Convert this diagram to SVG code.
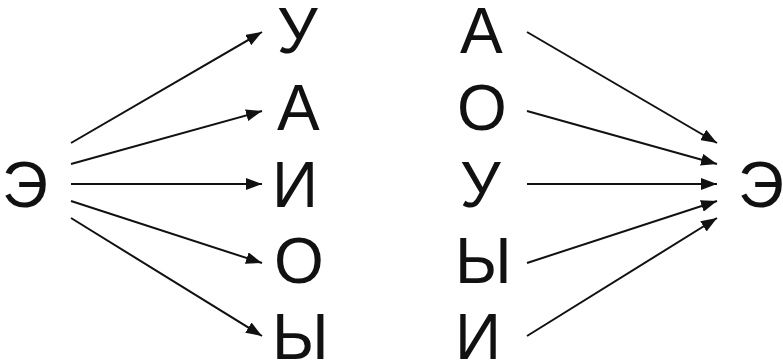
<svg xmlns="http://www.w3.org/2000/svg" width="783" height="363" viewBox="0 0 783 363">
<style>
text{font-family:"Liberation Sans",Arial,sans-serif;font-size:64px;fill:#111}
.c line{stroke:#111;stroke-width:2}
</style>
<defs>
<marker id="ah" viewBox="0 0 16 12" refX="16" refY="6" markerWidth="16" markerHeight="12" markerUnits="userSpaceOnUse" orient="auto">
<path d="M0,0L16,6L0,12z" fill="#111"/>
</marker>
</defs>
<rect width="783" height="363" fill="#fff"/>
<g id="left-e"><text x="2" y="207">Э</text></g>
<g id="l-u"><text x="277" y="53">У</text></g>
<g id="l-a"><text x="277" y="130">А</text></g>
<g id="l-i"><text x="272" y="207">И</text></g>
<g id="l-o"><text x="274" y="283">О</text></g>
<g id="l-y"><text x="272" y="359">Ы</text></g>
<g id="r-a"><text x="460" y="53">А</text></g>
<g id="r-o"><text x="457" y="130">О</text></g>
<g id="r-u"><text x="460" y="207">У</text></g>
<g id="r-y"><text x="455" y="283">Ы</text></g>
<g id="r-i"><text x="455" y="359">И</text></g>
<g id="right-e"><text x="738" y="207">Э</text></g>
<g class="c" id="connectors">
<line x1="71" y1="143" x2="262" y2="32" marker-end="url(#ah)"/>
<line x1="71" y1="164" x2="262" y2="111" marker-end="url(#ah)"/>
<line x1="71" y1="184" x2="262" y2="184" marker-end="url(#ah)"/>
<line x1="71" y1="201" x2="262" y2="263" marker-end="url(#ah)"/>
<line x1="71" y1="218" x2="262" y2="336" marker-end="url(#ah)"/>
<line x1="527" y1="32" x2="717" y2="143" marker-end="url(#ah)"/>
<line x1="527" y1="111" x2="717" y2="164" marker-end="url(#ah)"/>
<line x1="527" y1="184" x2="717" y2="184" marker-end="url(#ah)"/>
<line x1="527" y1="263" x2="717" y2="201" marker-end="url(#ah)"/>
<line x1="527" y1="336" x2="717" y2="218" marker-end="url(#ah)"/>
</g>
</svg>
